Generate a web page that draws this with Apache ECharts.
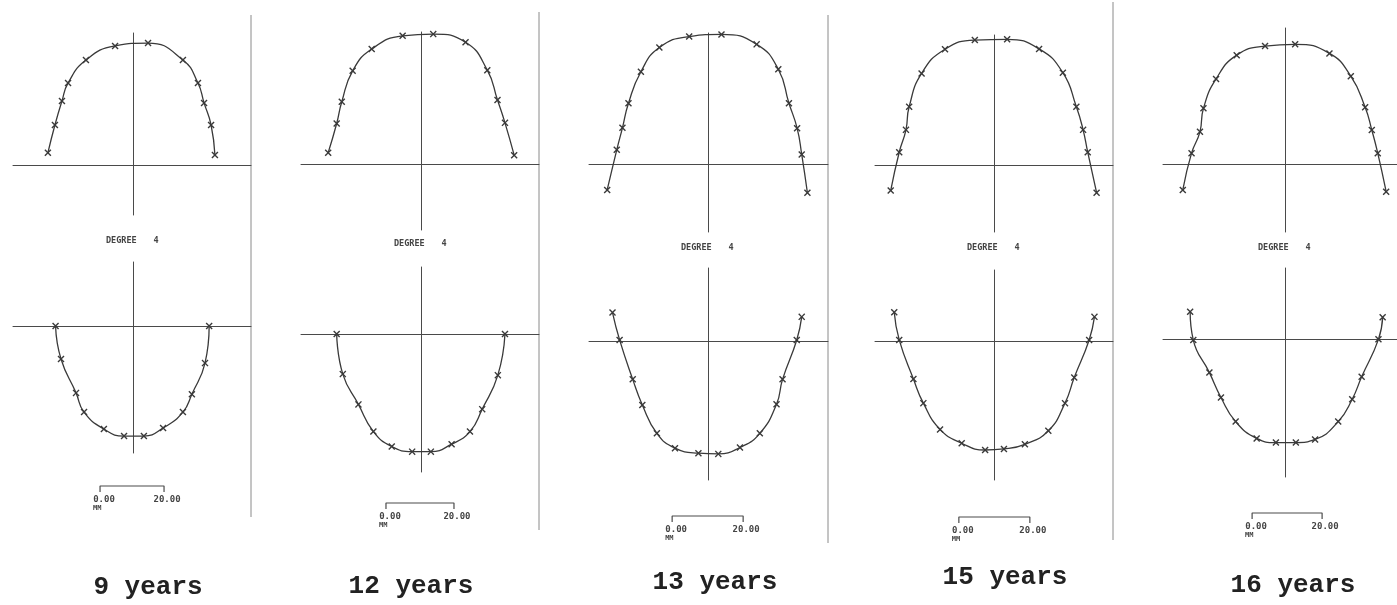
<!DOCTYPE html>
<html>
<head>
<meta charset="utf-8">
<script src="https://cdn.jsdelivr.net/npm/echarts@6/dist/echarts.min.js"></script>
<style>
  html, body { margin: 0; padding: 0; background: #ffffff; }
  #chart { width: 1397px; height: 605px; }
</style>
</head>
<body>
<div id="chart"></div>
<script>
// Dental arch outlines (mm), fitted with degree-4 curves, at five ages.
const AGES = ['9 years', '12 years', '13 years', '15 years', '16 years'];
const DEGREE_LABEL = 'DEGREE';
const DEGREE_VALUE = '4';
const SCALE_MM = [0, 20];
const SCALE_LABELS = ['0.00', '20.00'];
const SCALE_UNIT = 'MM';

// Upper arch points [x mm, y mm]
const UPPER_9 = [[-26.6, 3.8], [-24.4, 12.5], [-22.2, 20.0], [-20.3, 25.6], [-14.7, 32.8], [-5.6, 37.2],
  [4.7, 38.1], [15.6, 32.8], [20.3, 25.6], [22.2, 19.4], [24.4, 12.5], [25.6, 3.1]];
const UPPER_12 = [[-27.3, 3.3], [-24.8, 11.9], [-23.3, 18.3], [-20.1, 27.4], [-14.5, 33.8], [-5.4, 37.7],
  [3.6, 38.2], [13.1, 35.8], [19.5, 27.6], [22.5, 18.8], [24.7, 12.1], [27.4, 2.6]];
const UPPER_13 = [[-28.4, -7.3], [-25.7, 4.0], [-24.1, 10.2], [-22.4, 17.1], [-18.9, 26.0], [-13.7, 32.8],
  [-5.3, 35.9], [3.8, 36.5], [13.7, 33.7], [19.8, 26.7], [22.8, 17.1], [25.1, 10.1], [26.4, 2.7], [28.0, -8.1]];
const UPPER_15 = [[-29.1, -7.2], [-26.7, 3.6], [-24.8, 9.9], [-23.9, 16.4], [-20.4, 25.8], [-13.8, 32.6],
  [-5.4, 35.2], [3.7, 35.4], [12.7, 32.7], [19.4, 26.0], [23.2, 16.4], [25.1, 9.9], [26.4, 3.6], [28.9, -7.8]];
const UPPER_16 = [[-29.2, -7.4], [-26.7, 3.1], [-24.3, 9.2], [-23.3, 15.9], [-19.7, 24.3], [-13.8, 31.1],
  [-5.7, 33.7], [2.9, 34.2], [12.7, 31.6], [18.8, 25.1], [22.9, 16.2], [24.8, 9.7], [26.5, 3.1], [28.9, -7.9]];

// Lower arch points [x mm, y mm]
const LOWER_9 = [[-24.2, 0], [-22.5, -10.3], [-17.8, -20.9], [-15.3, -26.9], [-9.1, -32.2], [-2.8, -34.4],
  [3.4, -34.4], [9.4, -31.9], [15.6, -26.9], [18.4, -21.3], [22.5, -11.6], [23.8, 0]];
const LOWER_12 = [[-24.8, 0], [-23.0, -11.8], [-18.4, -20.7], [-14.0, -28.7], [-8.6, -33.1], [-2.6, -34.6],
  [2.9, -34.6], [9.0, -32.4], [14.4, -28.7], [18.0, -22.1], [22.6, -12.1], [24.7, 0]];
const LOWER_13 = [[-26.9, 8.0], [-24.9, 0.3], [-21.2, -10.8], [-18.5, -18.0], [-14.4, -26.0], [-9.3, -30.2],
  [-2.7, -31.6], [2.9, -31.8], [9.0, -30.0], [14.6, -26.0], [19.3, -17.8], [21.0, -10.8], [25.0, 0.3], [26.4, 6.8]];
const LOWER_15 = [[-28.1, 8.1], [-26.7, 0.3], [-22.7, -10.7], [-19.9, -17.5], [-15.2, -24.9], [-9.1, -28.8],
  [-2.5, -30.7], [2.8, -30.4], [8.7, -29.1], [15.3, -25.3], [20.0, -17.5], [22.6, -10.3], [26.8, 0.3], [28.3, 6.8]];
const LOWER_16 = [[-27.1, 7.8], [-26.2, -0.3], [-21.6, -9.6], [-18.3, -16.7], [-14.1, -23.6], [-8.1, -28.4],
  [-2.6, -29.6], [3.1, -29.6], [8.6, -28.7], [15.2, -23.6], [19.2, -17.2], [21.9, -10.8], [26.7, -0.1], [27.9, 6.2]];

const UPPER = [UPPER_9, UPPER_12, UPPER_13, UPPER_15, UPPER_16];
const LOWER = [LOWER_9, LOWER_12, LOWER_13, LOWER_15, LOWER_16];

// Page layout of each panel (pixels); s = pixels per mm
const PANELS = [
  { cx: 133, yU: 165, yL: 326, s: 3.2, hL: 13, hR: 251, vTop: 33, vMid1: 215, vMid2: 262, vBot: 453,
    div: [251, 15, 517], degY: 241, barX: -10.3, barY: 486, tX: 148, tY: 587 },
  { cx: 421, yU: 164, yL: 334, s: 3.4, hL: 301, hR: 539, vTop: 32, vMid1: 230, vMid2: 267, vBot: 472,
    div: [539, 12, 530], degY: 244, barX: -10.3, barY: 503, tX: 411, tY: 586 },
  { cx: 708, yU: 164, yL: 341, s: 3.55, hL: 589, hR: 828, vTop: 33, vMid1: 232, vMid2: 268, vBot: 480,
    div: [828, 15, 543], degY: 248, barX: -10.1, barY: 516, tX: 715, tY: 582 },
  { cx: 994, yU: 165, yL: 341, s: 3.55, hL: 875, hR: 1113, vTop: 35, vMid1: 232, vMid2: 270, vBot: 480,
    div: [1113, 2, 540], degY: 248, barX: -9.9, barY: 517, tX: 1005, tY: 577 },
  { cx: 1285, yU: 164, yL: 339, s: 3.5, hL: 1163, hR: 1397, vTop: 28, vMid1: 232, vMid2: 268, vBot: 477,
    div: null, degY: 248, barX: -9.4, barY: 513, tX: 1293, tY: 585 }
];

const INK = '#3a3a3a';
const AXIS_INK = '#4a4a4a';
const CROSS = 'path://M0,1.4L1.4,0L5,3.6L8.6,0L10,1.4L6.4,5L10,8.6L8.6,10L5,6.4L1.4,10L0,8.6L3.6,5Z';

const grids = [], xAxes = [], yAxes = [], series = [];

function addAxes(p, top, bottom, yZero) {
  grids.push({ left: p.hL, top: top, width: p.hR - p.hL, height: bottom - top });
  const gi = grids.length - 1;
  const hidden = { axisTick: { show: false }, axisLabel: { show: false }, splitLine: { show: false } };
  xAxes.push(Object.assign({
    type: 'value', gridIndex: gi,
    min: (p.hL - p.cx) / p.s, max: (p.hR - p.cx) / p.s,
    axisLine: { show: true, onZero: true, lineStyle: { color: AXIS_INK, width: 1 } }
  }, hidden));
  yAxes.push(Object.assign({
    type: 'value', gridIndex: gi,
    min: (yZero - bottom) / p.s, max: (yZero - top) / p.s,
    axisLine: { show: true, onZero: true, lineStyle: { color: AXIS_INK, width: 1 } }
  }, hidden));
  return gi;
}

function archSeries(gi, data) {
  return {
    type: 'line', xAxisIndex: gi, yAxisIndex: gi, data: data,
    smooth: 0.5,
    symbol: CROSS, symbolSize: 7, showAllSymbol: true,
    lineStyle: { color: INK, width: 1.3 },
    itemStyle: { color: INK },
    silent: true, animation: false
  };
}

PANELS.forEach(function (p, i) {
  const gu = addAxes(p, p.vTop, p.vMid1, p.yU);
  const gl = addAxes(p, p.vMid2, p.vBot, p.yL);
  series.push(archSeries(gu, UPPER[i]));
  series.push(archSeries(gl, LOWER[i]));
  // 20 mm scale bar below the lower arch
  const yb = (p.yL - p.barY) / p.s;
  const tick = 6 / p.s;
  const b0 = p.barX + SCALE_MM[0], b1 = p.barX + SCALE_MM[1];
  series.push({
    type: 'line', xAxisIndex: gl, yAxisIndex: gl, clip: false, symbol: 'none',
    data: [[b0, yb - tick], [b0, yb], [b1, yb], [b1, yb - tick]],
    lineStyle: { color: AXIS_INK, width: 1.2 }, silent: true, animation: false
  });
});

const chart = echarts.init(document.getElementById('chart'), null, { renderer: 'canvas' });
chart.setOption({
  backgroundColor: '#ffffff',
  animation: false,
  grid: grids, xAxis: xAxes, yAxis: yAxes, series: series
});

function txt(x, y, text, font, align, fill) {
  return {
    type: 'text', x: x, y: y, silent: true,
    style: { text: text, font: font, fill: fill || '#333', align: align, verticalAlign: 'middle',
      textAlign: align, textVerticalAlign: 'middle' }
  };
}

const graphics = [];
PANELS.forEach(function (p, i) {
  const gl = 2 * i + 1;
  if (p.div) {
    graphics.push({ type: 'line', silent: true,
      shape: { x1: p.div[0], y1: p.div[1], x2: p.div[0], y2: p.div[2] },
      style: { stroke: '#8a8a8a', lineWidth: 1 } });
  }
  // fit label between the two arches
  graphics.push(txt(p.cx - 27, p.degY, DEGREE_LABEL, 'bold 8.5px "DejaVu Sans Mono"', 'left', '#444'));
  graphics.push(txt(p.cx + 23, p.degY, DEGREE_VALUE, 'bold 8.5px "DejaVu Sans Mono"', 'center', '#444'));
  // scale bar labels
  const yb = (p.yL - p.barY) / p.s;
  const a = chart.convertToPixel({ gridIndex: gl }, [p.barX + SCALE_MM[0], yb]);
  const b = chart.convertToPixel({ gridIndex: gl }, [p.barX + SCALE_MM[1], yb]);
  graphics.push(txt(a[0] + 4, a[1] + 14, SCALE_LABELS[0], 'bold 9px "DejaVu Sans Mono"', 'center', '#444'));
  graphics.push(txt(b[0] + 3, b[1] + 14, SCALE_LABELS[1], 'bold 9px "DejaVu Sans Mono"', 'center', '#444'));
  graphics.push(txt(a[0] - 7, a[1] + 22, SCALE_UNIT, 'bold 7px "DejaVu Sans Mono"', 'left', '#444'));
  // age caption
  graphics.push(txt(p.tX, p.tY, AGES[i], 'bold 26px "Liberation Mono"', 'center', '#222'));
});
chart.setOption({ graphic: graphics });
</script>
</body>
</html>
